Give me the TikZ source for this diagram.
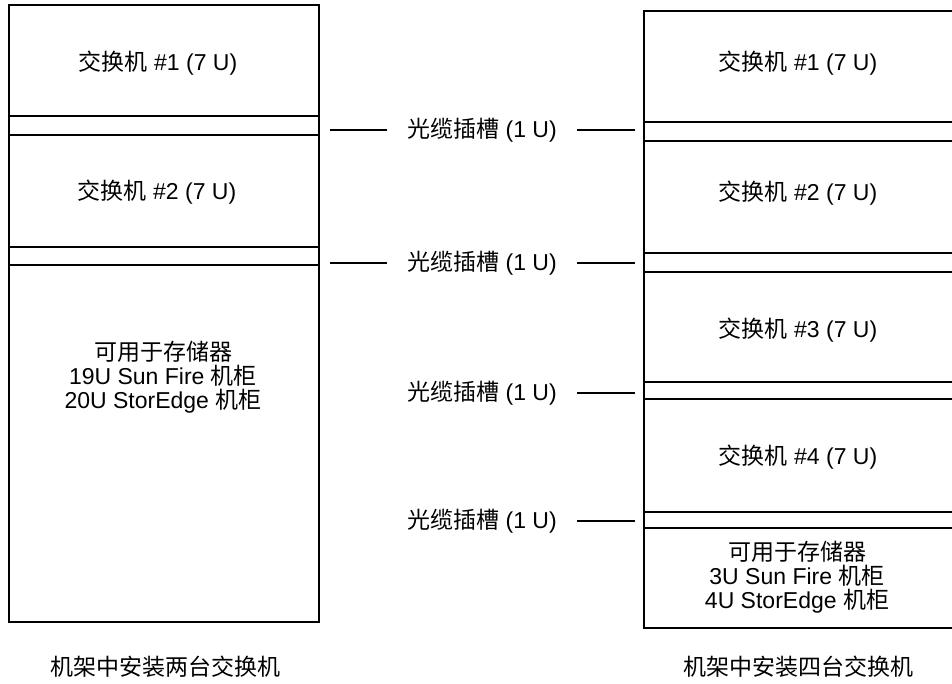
\documentclass[tikz,border=0pt]{standalone}
\usepackage{fontspec}
\setmainfont{Liberation Sans}
\newfontfamily\cjk{Noto Sans CJK SC}
\newcommand\zh[1]{{\cjk #1}}
\begin{document}
\begin{tikzpicture}[x=1pt,y=-1pt,
  sect/.style={draw, line width=2.3pt, minimum width=#1, anchor=north west, inner sep=0pt, outer sep=0pt},
  sect/.default=310pt,
  txt/.style={font=\fontsize{23}{24}\selectfont, align=center, inner sep=0pt},
  slotlbl/.style={font=\fontsize{23}{24}\selectfont, inner xsep=20pt, inner ysep=0pt},
  conn/.style={line width=2.3pt},
  captxt/.style={font=\cjk\fontsize{23}{26}\selectfont, inner sep=0pt}]
\useasboundingbox (0,0) rectangle (952,684);

% Left rack
\node[sect, minimum height=111pt] (L1) at (9,5) {};
\node[sect, minimum height=19pt]  (LS1) at (9,116) {};
\node[sect, minimum height=112pt] (L2) at (9,135) {};
\node[sect, minimum height=18pt]  (LS2) at (9,247) {};
\node[sect, minimum height=357pt] (LST) at (9,265) {};

\node[txt] (tL1) at (158,63) {\zh{交换机} \#1 (7 U)};
\node[txt] (tL2) at (157,192) {\zh{交换机} \#2 (7 U)};
\node[txt] (tLST) at (163,377) {\zh{可用于存储器}\\19U Sun Fire \zh{机柜}\\20U StorEdge \zh{机柜}};

% Right rack
\node[sect=312pt, minimum height=111pt] (R1) at (644,11) {};
\node[sect=312pt, minimum height=19pt]  (RS1) at (644,122) {};
\node[sect=312pt, minimum height=112pt] (R2) at (644,141) {};
\node[sect=312pt, minimum height=19pt]  (RS2) at (644,253) {};
\node[sect=312pt, minimum height=110pt] (R3) at (644,272) {};
\node[sect=312pt, minimum height=17pt]  (RS3) at (644,382) {};
\node[sect=312pt, minimum height=113pt] (R4) at (644,399) {};
\node[sect=312pt, minimum height=16pt]  (RS4) at (644,512) {};
\node[sect=312pt, minimum height=100pt] (RST) at (644,528) {};

\node[txt] (tR1) at (798,63) {\zh{交换机} \#1 (7 U)};
\node[txt] (tR2) at (798,193) {\zh{交换机} \#2 (7 U)};
\node[txt] (tR3) at (798,330) {\zh{交换机} \#3 (7 U)};
\node[txt] (tR4) at (798,457) {\zh{交换机} \#4 (7 U)};
\node[txt] (tRST) at (797,577) {\zh{可用于存储器}\\3U Sun Fire \zh{机柜}\\4U StorEdge \zh{机柜}};

% Slot labels and connectors
\node[slotlbl] (s1) at (482,130) {\zh{光缆插槽} (1 U)};
\node[slotlbl] (s2) at (482,263) {\zh{光缆插槽} (1 U)};
\node[slotlbl] (s3) at (482,393) {\zh{光缆插槽} (1 U)};
\node[slotlbl] (s4) at (482,521) {\zh{光缆插槽} (1 U)};

\coordinate (a1) at (330,130);
\coordinate (a2) at (330,263);
\coordinate (b1) at (635,130);
\coordinate (b2) at (635,263);
\coordinate (b3) at (635,393);
\coordinate (b4) at (635,521);

\draw[conn] (a1) -- (s1.west);
\draw[conn] (s1.east) -- (b1);
\draw[conn] (a2) -- (s2.west);
\draw[conn] (s2.east) -- (b2);
\draw[conn] (s3.east) -- (b3);
\draw[conn] (s4.east) -- (b4);

% Captions
\node[captxt] (c1) at (165,667) {机架中安装两台交换机};
\node[captxt] (c2) at (798,667) {机架中安装四台交换机};
\end{tikzpicture}
\end{document}
